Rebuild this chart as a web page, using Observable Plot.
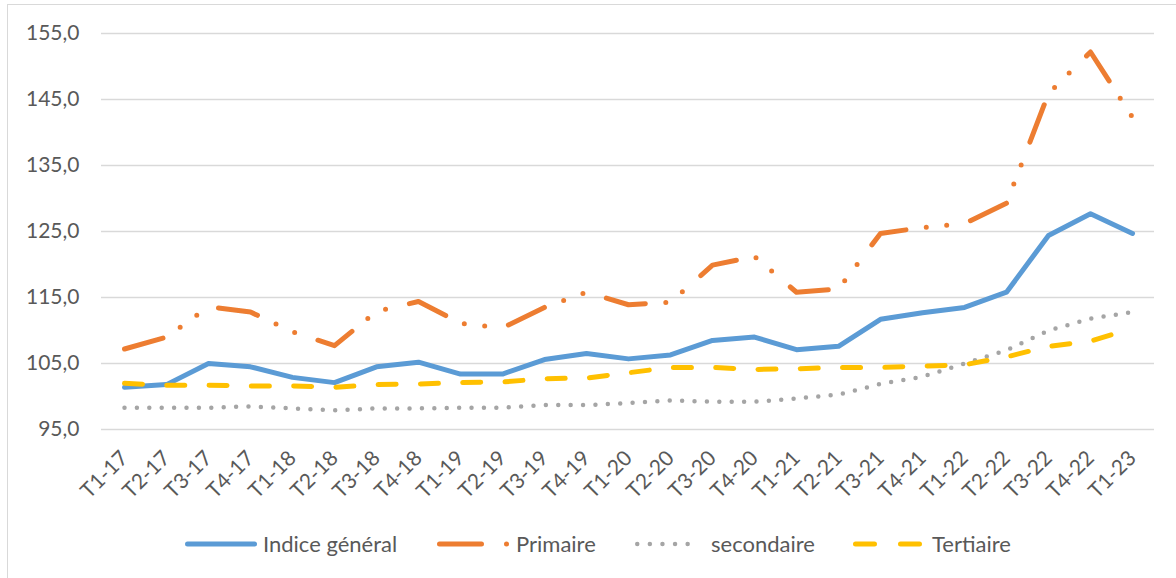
<!DOCTYPE html>
<html>
<head>
<meta charset="utf-8">
<script src="https://cdn.jsdelivr.net/npm/d3@7"></script>
<script src="https://cdn.jsdelivr.net/npm/@observablehq/plot@0.6"></script>
<style>
  html, body { margin: 0; padding: 0; background: #fff; overflow: hidden; }
  body { width: 1176px; height: 578px; position: relative; font-family: Lato, "Liberation Sans", sans-serif; }
  #frame { position: absolute; left: 7px; top: 4px; width: 1220px; height: 640px; border: 1.5px solid #d9d9d9; box-sizing: border-box; pointer-events: none; }
  #chart { position: absolute; left: 0; top: 0; }
  #legend { position: absolute; left: 0; top: 510px; }
</style>
</head>
<body>
<div id="frame"></div>
<div id="chart"></div>
<div id="legend"></div>
<script>
const categories = ["T1-17","T2-17","T3-17","T4-17","T1-18","T2-18","T3-18","T4-18","T1-19","T2-19","T3-19","T4-19","T1-20","T2-20","T3-20","T4-20","T1-21","T2-21","T3-21","T4-21","T1-22","T2-22","T3-22","T4-22","T1-23"];
const indiceGeneral = [101.4,101.8,105.0,104.5,102.9,102.1,104.5,105.2,103.4,103.4,105.6,106.5,105.7,106.3,108.5,109.0,107.1,107.6,111.7,112.7,113.5,115.8,124.4,127.7,124.7];
const primaire = [107.2,109.0,113.6,112.8,109.8,107.7,112.9,114.4,111.1,110.4,113.5,115.8,113.9,114.3,119.9,121.2,115.8,116.3,124.7,125.6,126.2,129.3,145.9,152.2,142.3];
const secondaire = [98.3,98.3,98.3,98.5,98.2,97.9,98.2,98.2,98.3,98.3,98.7,98.7,99.0,99.4,99.2,99.2,99.7,100.3,101.9,103.0,105.0,107.0,110.0,111.8,112.8];
const tertiaire = [102.0,101.7,101.7,101.6,101.6,101.4,101.8,101.9,102.1,102.2,102.7,102.8,103.6,104.4,104.4,104.1,104.2,104.4,104.4,104.6,104.8,106.0,107.6,108.4,110.3];
const yTicks = [95,105,115,125,135,145,155];
const seriesNames = ["Indice général","Primaire","secondaire","Tertiaire"];

const seriesStyles = [
  {name: seriesNames[0], values: indiceGeneral, color: "#5B9BD5", width: 5, dash: null},
  {name: seriesNames[1], values: primaire, color: "#ED7D31", width: 5, dash: "40,20.5,0,20.5,0,24.5"},
  {name: seriesNames[2], values: secondaire, color: "#A5A5A5", width: 4.5, dash: "0,12.4"},
  {name: seriesNames[3], values: tertiaire, color: "#FFC000", width: 5, dash: "18,24.3"}
];

const fmt = d => d.toFixed(1).replace(".", ",");

const marks = [
  Plot.ruleY(yTicks, {stroke: "#d9d9d9", strokeWidth: 1.5}),
  Plot.axisY({ticks: yTicks, tickSize: 0, tickPadding: 22, tickFormat: fmt, fontSize: 21}),
  Plot.axisX({tickSize: 0, tickRotate: -45, tickPadding: 25, fontSize: 21})
];
for (const s of seriesStyles) {
  const data = categories.map((c, i) => ({cat: c, value: s.values[i]}));
  marks.push(Plot.line(data, {
    x: "cat", y: "value", stroke: s.color, strokeWidth: s.width,
    strokeDasharray: s.dash || undefined, strokeLinecap: "round", strokeLinejoin: "round"
  }));
}

const chart = Plot.plot({
  width: 1176,
  height: 510,
  marginTop: 33,
  marginBottom: 81,
  marginLeft: 101,
  marginRight: 22,
  style: {fontFamily: "Lato, 'Liberation Sans', sans-serif", color: "#595959", background: "transparent", overflow: "visible"},
  x: {type: "point", domain: categories, padding: 0.5, label: null},
  y: {domain: [95, 155], label: null},
  marks
});
document.getElementById("chart").appendChild(chart);

// Legend
const legendItems = [
  {x1: 185, x2: 257, tx: 263},
  {x1: 437, x2: 514, tx: 515},
  {x1: 635, x2: 700, tx: 711},
  {x1: 853, x2: 922, tx: 932}
];
const ns = "http://www.w3.org/2000/svg";
const lg = document.createElementNS(ns, "svg");
lg.setAttribute("width", 1176);
lg.setAttribute("height", 68);
lg.style.fontFamily = "Lato, 'Liberation Sans', sans-serif";
const cy = 34;
seriesStyles.forEach((s, i) => {
  const it = legendItems[i];
  const ln = document.createElementNS(ns, "line");
  ln.setAttribute("x1", it.x1 + s.width / 2);
  ln.setAttribute("x2", it.x2 - s.width / 2);
  ln.setAttribute("y1", cy); ln.setAttribute("y2", cy);
  ln.setAttribute("stroke", s.color);
  ln.setAttribute("stroke-width", s.width);
  ln.setAttribute("stroke-linecap", "round");
  if (i === 1) ln.setAttribute("stroke-dasharray", "42,25,0,100");
  else if (i === 2) ln.setAttribute("stroke-dasharray", "0,12.6");
  else if (i === 3) ln.setAttribute("stroke-dasharray", "19,26");
  lg.appendChild(ln);
  const t = document.createElementNS(ns, "text");
  t.setAttribute("x", it.tx + (i === 1 ? 1 : 0));
  t.setAttribute("y", cy);
  t.setAttribute("dy", "0.35em");
  t.setAttribute("fill", "#595959");
  t.setAttribute("font-size", 22);
  t.textContent = s.name;
  lg.appendChild(t);
});
document.getElementById("legend").appendChild(lg);
</script>
</body>
</html>
